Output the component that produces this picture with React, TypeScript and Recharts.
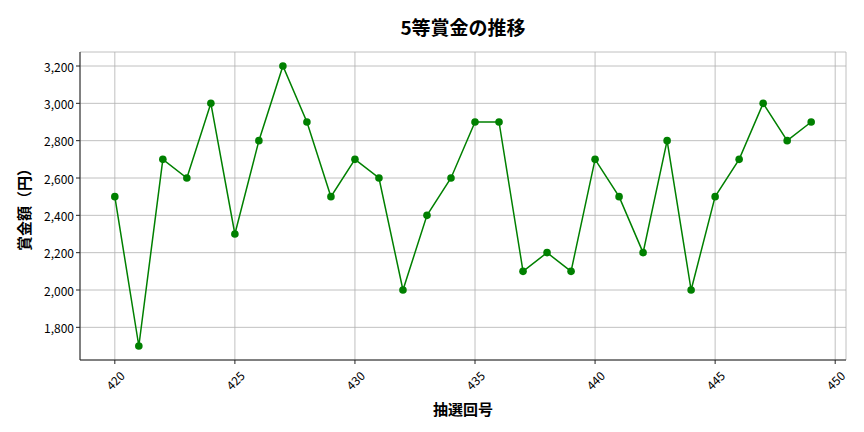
import { LineChart, Line, XAxis, YAxis, CartesianGrid } from 'recharts'

const draws = [420, 421, 422, 423, 424, 425, 426, 427, 428, 429, 430, 431, 432, 433, 434, 435, 436, 437, 438, 439, 440, 441, 442, 443, 444, 445, 446, 447, 448, 449]
const prizes = [2500, 1700, 2700, 2600, 3000, 2300, 2800, 3200, 2900, 2500, 2700, 2600, 2000, 2400, 2600, 2900, 2900, 2100, 2200, 2100, 2700, 2500, 2200, 2800, 2000, 2500, 2700, 3000, 2800, 2900]
const xTicks = [420, 425, 430, 435, 440, 445, 450]
const yTicks = [1800, 2000, 2200, 2400, 2600, 2800, 3000, 3200]

const font = '"Noto Sans CJK JP", "Noto Sans", sans-serif'

const data = draws.map((d, i) => ({ draw: d, prize: prizes[i] }))

function RotatedTick({ x, y, payload }: any) {
  const cy = y + 14
  return (
    <text
      x={x}
      y={cy}
      textAnchor="middle"
      dominantBaseline="central"
      transform={`rotate(-45, ${x}, ${cy})`}
      fontSize={12}
      fontFamily={font}
      fill="#000"
    >
      {payload.value}
    </text>
  )
}

function YTick({ x, y, payload }: any) {
  return (
    <text x={x} y={y} textAnchor="end" dominantBaseline="central" fontSize={12} fontFamily={font} fill="#000">
      {payload.value.toLocaleString('en-US')}
    </text>
  )
}

export default function App() {
  return (
    <div style={{ position: 'absolute', left: 0, top: 0, width: 864, height: 432, background: '#fff' }}>
      <LineChart width={864} height={432} data={data} margin={{ top: 52, right: 18, left: 0, bottom: 0 }}>
        <CartesianGrid stroke="#b0b0b0" strokeWidth={0.8} />
        <XAxis
          dataKey="draw"
          type="number"
          domain={[418.55, 450.45]}
          ticks={xTicks}
          allowDataOverflow
          height={72}
          tick={<RotatedTick />}
          tickSize={4}
          axisLine={{ stroke: '#222' }}
          tickLine={{ stroke: '#222' }}
        />
        <XAxis xAxisId="top" orientation="top" dataKey="draw" type="number" domain={[418.55, 450.45]} height={0} tick={false} tickLine={false} axisLine={{ stroke: '#222' }} />
        <YAxis
          type="number"
          domain={[1625, 3275]}
          ticks={yTicks}
          allowDataOverflow
          width={80}
          tickSize={4}
          tick={<YTick />}
          axisLine={{ stroke: '#222' }}
          tickLine={{ stroke: '#222' }}
        />
        <YAxis yAxisId="right" orientation="right" domain={[1625, 3275]} width={0} tick={false} tickLine={false} axisLine={{ stroke: '#222' }} />
        <Line
          dataKey="prize"
          stroke="#008000"
          strokeWidth={1.5}
          dot={{ r: 3.8, fill: '#008000', stroke: '#008000', strokeWidth: 0 }}
          activeDot={false}
          isAnimationActive={false}
        />
        <text x={463} y={26} textAnchor="middle" dominantBaseline="central" fontSize={19} fontWeight="bold" fontFamily={font} fill="#000">
          5等賞金の推移
        </text>
        <text x={463} y={408} textAnchor="middle" dominantBaseline="central" fontSize={15} fontWeight="bold" fontFamily={font} fill="#000">
          抽選回号
        </text>
        <text x={23} y={206} textAnchor="middle" dominantBaseline="central" fontSize={15} fontWeight="bold" fontFamily={font} fill="#000" transform="rotate(-90, 23, 206)">
          賞金額（円）
        </text>
      </LineChart>
    </div>
  )
}
